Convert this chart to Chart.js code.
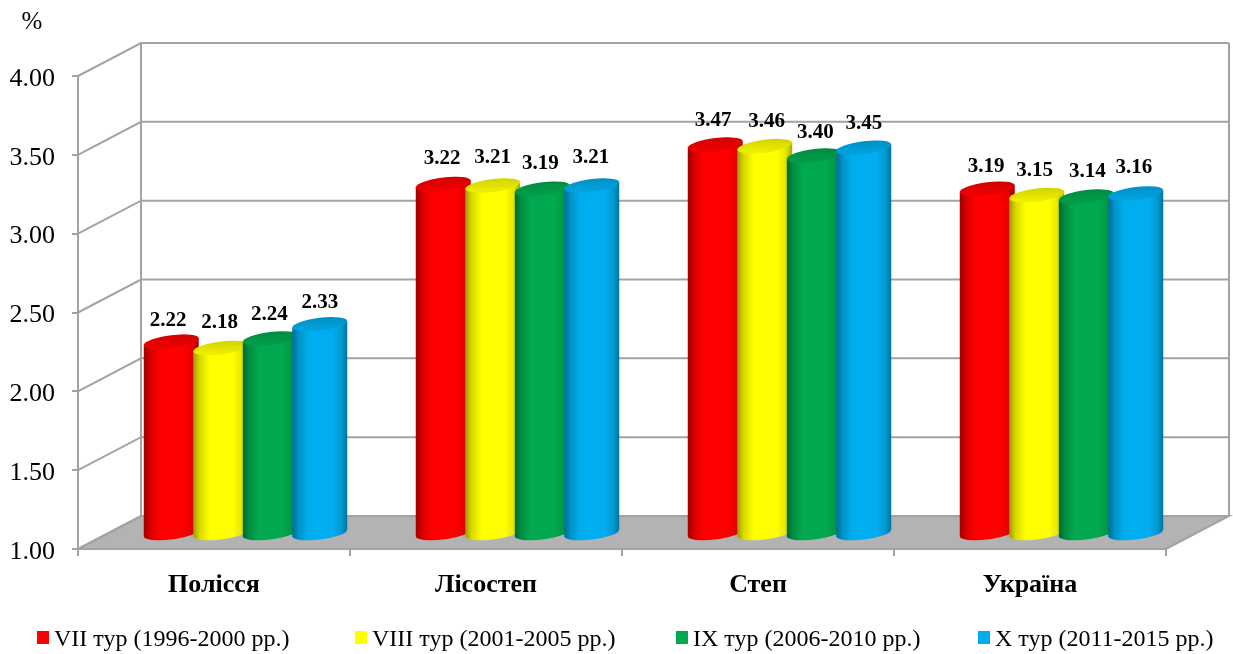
<!DOCTYPE html>
<html>
<head>
<meta charset="utf-8">
<style>
  html, body { margin: 0; padding: 0; background: #fff; }
  #wrap { width: 1233px; height: 654px; }
</style>
<script src="https://cdn.jsdelivr.net/npm/chart.js@4/dist/chart.umd.min.js"></script>
</head>
<body>
<div id="wrap"><canvas id="chart" width="1233" height="654"></canvas></div>
<script>
const categories = ["Полісся", "Лісостеп", "Степ", "Україна"];
const tour7 = [2.22, 3.22, 3.47, 3.19];
const tour8 = [2.18, 3.21, 3.46, 3.15];
const tour9 = [2.24, 3.19, 3.40, 3.14];
const tour10 = [2.33, 3.21, 3.45, 3.16];
const seriesLabels = [
  "VII тур (1996-2000 рр.)",
  "VIII тур (2001-2005 рр.)",
  "IX тур (2006-2010 рр.)",
  "X тур (2011-2015 рр.)",
];
const seriesColors = ["#ff0000", "#ffff00", "#00a94f", "#00aeef"];
const legendX = [37, 355, 676, 978];

// the labels were placed by hand in the original, so each one has its own nudge
const labelNudgeX = [
  [-3, -1, -1, 0],
  [-1, 0, -2, -1],
  [-2, 2, 1, 0],
  [-1, -2, 1, -2],
];
const labelNudgeY = [
  [-21, -25, -24, -22],
  [-25, -28, -25, -28],
  [-24, -25, -23, -24],
  [-22, -24, -25, -26],
];

const serif = "'Liberation Serif', 'Times New Roman', serif";
const lineColor = "#a3a3a3";
const floorColor = "#b3b3b3";
const depthX = 63;
const depthY = 33;
const barShiftX = 31.5;
const barShiftY = 15;
const capRy = 6.5;
const capShear = -0.12;

function shade(hex, f) {
  const n = parseInt(hex.slice(1), 16);
  const r = Math.round(((n >> 16) & 255) * f);
  const g = Math.round(((n >> 8) & 255) * f);
  const b = Math.round((n & 255) * f);
  return `rgb(${r},${g},${b})`;
}

function drawWalls(chart) {
  const { ctx } = chart;
  const y = chart.scales.y;
  const left = chart.chartArea.left;
  const right = chart.chartArea.right;
  const top = y.getPixelForValue(y.max);
  const bottom = y.getPixelForValue(y.min);

  ctx.save();
  ctx.strokeStyle = lineColor;
  ctx.lineWidth = 2;

  ctx.fillStyle = floorColor;
  ctx.beginPath();
  ctx.moveTo(left, bottom);
  ctx.lineTo(right, bottom);
  ctx.lineTo(right + depthX, bottom - depthY);
  ctx.lineTo(left + depthX, bottom - depthY);
  ctx.closePath();
  ctx.fill();
  ctx.stroke();

  y.ticks.forEach((tick) => {
    const py = y.getPixelForValue(tick.value);
    ctx.beginPath();
    ctx.moveTo(left, py);
    ctx.lineTo(left + depthX, py - depthY);
    ctx.lineTo(right + depthX, py - depthY);
    ctx.stroke();
  });

  ctx.beginPath();
  ctx.moveTo(left + depthX, top - depthY);
  ctx.lineTo(left + depthX, bottom - depthY);
  ctx.moveTo(right + depthX, top - depthY);
  ctx.lineTo(right + depthX, bottom - depthY);
  ctx.stroke();
  ctx.restore();
}

function drawCylinder(ctx, bar, color) {
  const cx = bar.x + barShiftX;
  const rx = bar.width / 2;
  const topY = bar.y - barShiftY;
  const baseY = bar.base - barShiftY;
  const cornerY = rx * capShear;

  const grad = ctx.createLinearGradient(cx - rx, 0, cx + rx, 0);
  grad.addColorStop(0, shade(color, 0.62));
  grad.addColorStop(0.12, shade(color, 0.85));
  grad.addColorStop(0.3, shade(color, 1));
  grad.addColorStop(0.72, shade(color, 1));
  grad.addColorStop(0.88, shade(color, 0.9));
  grad.addColorStop(1, shade(color, 0.66));

  // body: bottom half of the sheared base ellipse, then straight up to the cap corners
  ctx.save();
  ctx.fillStyle = grad;
  ctx.beginPath();
  ctx.moveTo(cx + rx, topY + cornerY);
  ctx.lineTo(cx + rx, baseY + cornerY);
  ctx.save();
  ctx.transform(1, capShear, 0, 1, cx, baseY);
  ctx.ellipse(0, 0, rx, capRy, 0, 0, Math.PI);
  ctx.restore();
  ctx.lineTo(cx - rx, topY - cornerY);
  ctx.closePath();
  ctx.fill();

  const capGrad = ctx.createLinearGradient(0, topY - 7, 0, topY + 7);
  capGrad.addColorStop(0, shade(color, 0.83));
  capGrad.addColorStop(1, shade(color, 0.94));
  ctx.fillStyle = capGrad;
  ctx.beginPath();
  ctx.save();
  ctx.transform(1, capShear, 0, 1, cx, topY);
  ctx.ellipse(0, 0, rx, capRy, 0, 0, Math.PI * 2);
  ctx.restore();
  ctx.fill();
  ctx.restore();
}

const cylinderPlugin = {
  id: "cylinders",
  beforeDatasetsDraw(chart) {
    drawWalls(chart);
  },
  beforeDatasetDraw() {
    return false;
  },
  afterDatasetsDraw(chart) {
    const { ctx } = chart;
    ctx.save();
    chart.data.datasets.forEach((dataset, i) => {
      chart.getDatasetMeta(i).data.forEach((bar) => {
        drawCylinder(ctx, bar, dataset.backgroundColor);
      });
    });

    ctx.fillStyle = "#000";
    ctx.font = `bold 21px ${serif}`;
    ctx.textAlign = "center";
    ctx.textBaseline = "middle";
    chart.data.datasets.forEach((dataset, i) => {
      chart.getDatasetMeta(i).data.forEach((bar, j) => {
        const px = bar.x + barShiftX + labelNudgeX[j][i];
        const py = bar.y - barShiftY + labelNudgeY[j][i];
        ctx.fillText(dataset.data[j].toFixed(2), px, py);
      });
    });
    ctx.restore();
  },
  afterDraw(chart) {
    const { ctx } = chart;
    ctx.save();
    ctx.fillStyle = "#000";
    ctx.textBaseline = "middle";
    ctx.textAlign = "center";
    ctx.font = `25px ${serif}`;
    ctx.fillText("%", 32, 22);

    ctx.textAlign = "left";
    ctx.font = `24px ${serif}`;
    chart.data.datasets.forEach((dataset, i) => {
      ctx.fillStyle = dataset.backgroundColor;
      ctx.fillRect(legendX[i], 631, 12, 13);
      ctx.fillStyle = "#000";
      ctx.fillText(dataset.label, legendX[i] + 17, 640);
    });
    ctx.restore();
  },
};

const allSeries = [tour7, tour8, tour9, tour10];

new Chart(document.getElementById("chart"), {
  type: "bar",
  data: {
    labels: categories,
    datasets: allSeries.map((values, i) => ({
      label: seriesLabels[i],
      data: values,
      base: 1,
      backgroundColor: seriesColors[i],
      categoryPercentage: 0.728,
      barPercentage: 1.11,
    })),
  },
  options: {
    responsive: false,
    animation: false,
    layout: { padding: { left: 0, right: 67, top: 76, bottom: 0 } },
    plugins: {
      legend: { display: false },
      tooltip: { enabled: false },
    },
    scales: {
      x: {
        afterFit(scale) {
          scale.height = 105;
        },
        grid: { drawOnChartArea: false, tickLength: 7, tickColor: lineColor, lineWidth: 2 },
        border: { color: lineColor, width: 2 },
        ticks: {
          color: "#000",
          padding: 14,
          maxRotation: 0,
          font: { family: serif, size: 26, weight: "bold" },
        },
      },
      y: {
        min: 1,
        max: 4,
        afterFit(scale) {
          scale.width = 78;
        },
        grid: { drawOnChartArea: false, tickLength: 6, tickColor: lineColor, lineWidth: 2 },
        border: { color: lineColor, width: 2 },
        ticks: {
          color: "#000",
          stepSize: 0.5,
          padding: 17,
          labelOffset: 3,
          font: { family: serif, size: 26 },
          callback: (value) => Number(value).toFixed(2),
        },
      },
    },
  },
  plugins: [cylinderPlugin],
});
</script>
</body>
</html>
